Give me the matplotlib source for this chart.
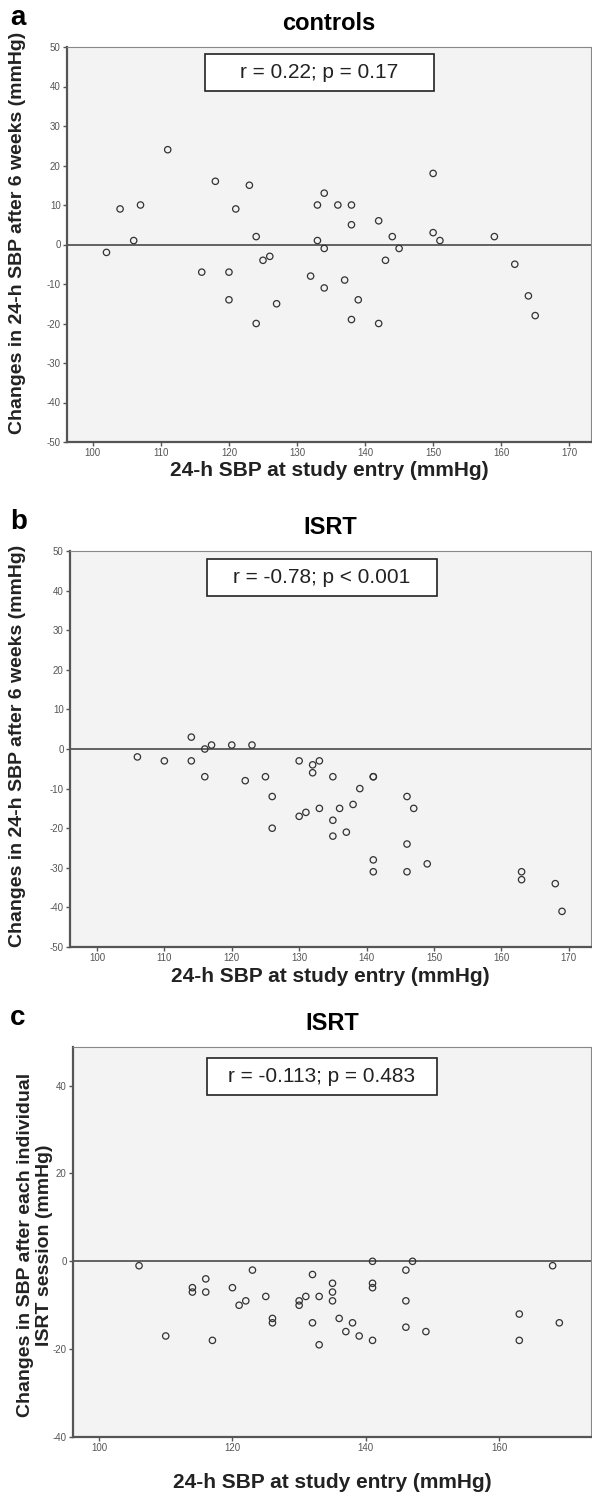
import matplotlib
matplotlib.use("Agg")
import matplotlib.pyplot as plt
from matplotlib.patches import Rectangle

W, H = 592, 1497

# panel a: controls
ctrl_x = [102, 104, 106, 107, 111, 116, 118, 120, 120, 121, 123, 124, 124, 125, 126, 127,
          132, 133, 133, 134, 134, 134, 136, 137, 138, 138, 138, 139, 142, 142, 143, 144,
          145, 150, 150, 151, 159, 162, 164, 165]
ctrl_y = [-2, 9, 1, 10, 24, -7, 16, -7, -14, 9, 15, 2, -20, -4, -3, -15,
          -8, 10, 1, 13, -1, -11, 10, -9, 10, 5, -19, -14, 6, -20, -4, 2,
          -1, 18, 3, 1, 2, -5, -13, -18]

# panel b: ISRT after 6 weeks
isrt_x = [106, 110, 114, 114, 116, 116, 117, 120, 122, 123, 125, 126, 126, 130, 130, 131,
          132, 132, 133, 133, 135, 135, 135, 136, 137, 138, 139, 141, 141, 141, 141, 146,
          146, 146, 147, 149, 163, 163, 168, 169]
isrt_y = [-2, -3, 3, -3, 0, -7, 1, 1, -8, 1, -7, -12, -20, -3, -17, -16,
          -4, -6, -3, -15, -7, -18, -22, -15, -21, -14, -10, -7, -7, -28, -31, -12,
          -24, -31, -15, -29, -31, -33, -34, -41]

# panel c: ISRT after each session
sess_x = [106, 110, 114, 114, 116, 116, 117, 120, 121, 122, 123, 125, 126, 126,
          130, 130, 131, 132, 132, 133, 133, 135, 135, 135, 136, 137, 138, 139,
          141, 141, 141, 141, 146, 146, 146, 147, 149, 163, 163, 168, 169]
sess_y = [-1, -17, -6, -7, -4, -7, -18, -6, -10, -9, -2, -8, -13, -14,
          -9, -10, -8, -3, -14, -8, -19, -5, -7, -9, -13, -16, -14, -17,
          0, -5, -6, -18, -2, -9, -15, 0, -16, -12, -18, -1, -14]

plt.rcParams['font.family'] = ['Liberation Sans', 'DejaVu Sans']
plt.rcParams['axes.unicode_minus'] = False

fig = plt.figure(figsize=(W / 100, H / 100), dpi=100)


def fx(x):
    return x / W


def fy(y):
    return 1 - y / H


def panel(rect, xs, ys, xlim, ylim, xticks, yticks, letter, title, stat, box,
          ylabel, ylabel_xy, xlabel_y):
    l, t, r, b = rect
    ax = fig.add_axes([fx(l), fy(b), (r - l) / W, (b - t) / H])
    ax.set_facecolor('#f3f3f3')
    ax.axhline(0, color='#3a3a3a', lw=1.1, zorder=1)
    ax.scatter(xs, ys, s=21, facecolors='none', edgecolors='#333333',
               linewidths=0.9, zorder=3)
    ax.set_xlim(*xlim)
    ax.set_ylim(*ylim)
    ax.set_xticks(xticks)
    ax.set_yticks(yticks)
    for side in ['left', 'bottom']:
        ax.spines[side].set_color('#555555')
        ax.spines[side].set_linewidth(1.6)
    for side in ['top', 'right']:
        ax.spines[side].set_color('#888888')
        ax.spines[side].set_linewidth(0.8)
    ax.tick_params(direction='out', length=3, width=1, color='#555555',
                   labelsize=7, labelcolor='#555555', pad=1.5)

    # panel letter and title
    fig.text(fx(10), fy(t - 22), letter, fontsize=20, fontweight='bold',
             va='baseline', ha='left')
    fig.text(fx((l + r) / 2), fy(t - 17), title, fontsize=17, fontweight='bold',
             va='baseline', ha='center')

    # stats box
    bl, bt, br, bb = box
    fig.add_artist(Rectangle((fx(bl), fy(bb)), (br - bl) / W, (bb - bt) / H,
                             transform=fig.transFigure, facecolor='white',
                             edgecolor='#222222', lw=1.2, zorder=5))
    fig.text(fx((bl + br) / 2), fy((bt + bb) / 2), stat, fontsize=15,
             ha='center', va='center', color='#222222', zorder=6)

    # axis labels
    fig.text(fx((l + r) / 2), fy(xlabel_y), '24-h SBP at study entry (mmHg)',
             fontsize=15, fontweight='bold', ha='center', va='center',
             color='#222222')
    fig.text(fx(ylabel_xy[0]), fy(ylabel_xy[1]), ylabel, fontsize=14,
             fontweight='bold', rotation=90, ha='center', va='center',
             color='#222222', multialignment='center', linespacing=1.1)
    return ax


panel((67, 47, 591, 442), ctrl_x, ctrl_y, (96.2, 173.2), (-50, 50),
      [100, 110, 120, 130, 140, 150, 160, 170], list(range(-50, 51, 10)),
      'a', 'controls', 'r = 0.22; p = 0.17', (205, 54, 434, 91),
      'Changes in 24-h SBP after 6 weeks (mmHg)', (18, 233), 470)

panel((70, 551, 591, 947), isrt_x, isrt_y, (96.0, 173.3), (-50, 50),
      [100, 110, 120, 130, 140, 150, 160, 170], list(range(-50, 51, 10)),
      'b', 'ISRT', 'r = -0.78; p < 0.001', (207, 559, 437, 596),
      'Changes in 24-h SBP after 6 weeks (mmHg)', (18, 746), 977)

panel((73, 1047, 591, 1437), sess_x, sess_y, (96.1, 173.75), (-40, 48.8),
      [100, 120, 140, 160], [-40, -20, 0, 20, 40],
      'c', 'ISRT', 'r = -0.113; p = 0.483', (207, 1058, 437, 1095),
      'Changes in SBP after each individual\nISRT session (mmHg)', (35, 1245), 1482)

fig.savefig('out.png', dpi=100)
